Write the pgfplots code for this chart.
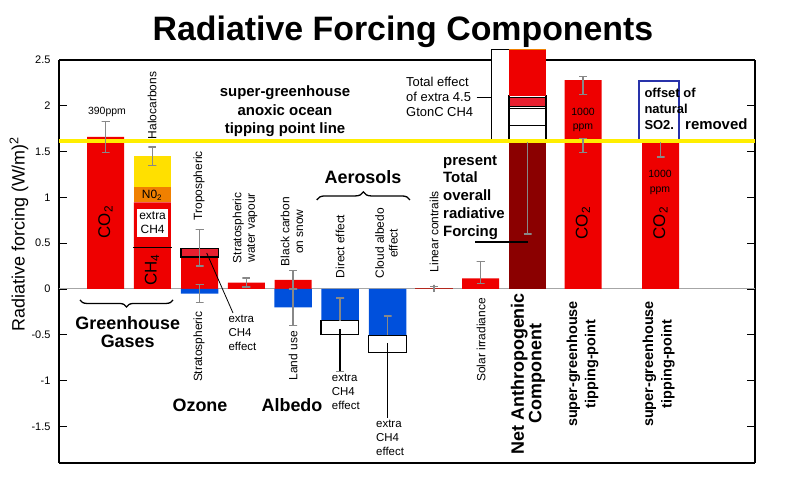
\documentclass[border=0pt]{standalone}
\usepackage{fontspec}
\setmainfont{Liberation Sans}
\usepackage{pgfplots}
\pgfplotsset{compat=1.18}
\usetikzlibrary{decorations.pathreplacing}
\definecolor{cred}{RGB}{238,0,0}
\definecolor{clred}{RGB}{232,32,48}
\definecolor{cblue}{RGB}{0,80,220}
\definecolor{cyel}{RGB}{255,224,0}
\definecolor{corange}{RGB}{240,128,0}
\definecolor{cdark}{RGB}{139,0,0}
\definecolor{cbrown}{RGB}{180,40,30}
\definecolor{cline}{RGB}{255,238,0}
\definecolor{cgray}{RGB}{136,136,136}
\definecolor{cnavy}{RGB}{40,50,170}
\newcommand\fs[2]{\fontsize{#1}{#2}\selectfont}
\begin{document}
\begin{tikzpicture}
\begin{axis}[
  scale only axis, width=696bp, height=403bp,
  xmin=59, xmax=755, ymin=-1.9, ymax=2.5,
  xtick=\empty,
  ytick={-1.5,-1,-0.5,0,0.5,1,1.5,2,2.5},
  tick align=inside, major tick length=8bp,
  yticklabel style={font=\fs{11}{13}, xshift=-5bp},
  /pgf/number format/assume math mode=true,
  separate axis lines, axis line style={line width=1.6bp, black},
  tick style={line width=1.2bp, black},
  clip=false,
  errb/.style={color=cgray, line width=1.3bp, forget plot},
]
% zero line
\addplot[gray!70, line width=1bp, forget plot] coordinates {(59,0) (755,0)};
% simple bars from zero
\addplot[ybar, bar width=37, fill=cred, draw=none, forget plot] coordinates {(105.5,1.66) (152.3,0.946) (199.5,0.35) (246.3,0.07) (293,0.098) (480.5,0.117) (583,2.28) (660.5,1.62)};
\addplot[ybar, bar width=37.5, fill=cblue, draw=none, forget plot] coordinates {(199.5,-0.052) (293,-0.2) (340,-0.345) (387.5,-0.505)};
\addplot[ybar, bar width=37.7, fill=cbrown, draw=none, forget plot] coordinates {(434,0.015)};
\addplot[ybar, bar width=37, fill=cdark, draw=none, forget plot] coordinates {(527.5,1.62)};
% halocarbon stack
\addplot[fill=corange, draw=none, forget plot] coordinates {(133.8,0.946) (170.8,0.946) (170.8,1.11) (133.8,1.11)} -- cycle;
\addplot[fill=cyel, draw=none, forget plot] coordinates {(133.8,1.11) (170.8,1.11) (170.8,1.449) (133.8,1.449)} -- cycle;
\addplot[black, line width=0.8bp, forget plot] coordinates {(133,0.455) (172,0.455)};
% tropospheric ozone extra box
\addplot[fill=clred, draw=black, line width=1.2bp, forget plot] coordinates {(181,0.35) (218.3,0.35) (218.3,0.445) (181,0.445)} -- cycle;
% aerosol extra boxes
\addplot[fill=white, draw=black, line width=1.2bp, forget plot] coordinates {(321,-0.345) (358.7,-0.345) (358.7,-0.495) (321,-0.495)} -- cycle;
\addplot[fill=white, draw=black, line width=1.2bp, forget plot] coordinates {(368.3,-0.505) (406.7,-0.505) (406.7,-0.69) (368.3,-0.69)} -- cycle;
% bracket for total effect
\addplot[fill=white, draw=black, line width=1bp, forget plot] coordinates {(509,2.62) (491.7,2.62) (491.7,1.625) (509,1.625)};
\addplot[black, line width=1bp, forget plot] coordinates {(476.7,2.09) (491.7,2.09)};
% net bar upper segments
\addplot[fill=white, draw=black, line width=1.1bp, forget plot] coordinates {(509,1.62) (546,1.62) (546,2.11) (509,2.11)} -- cycle;
\addplot[fill=cred, draw=none, forget plot] coordinates {(509,2.11) (546,2.11) (546,2.61) (509,2.61)} -- cycle;
\addplot[corange, line width=1bp, forget plot] coordinates {(509,2.61) (546,2.61)};
\addplot[fill=clred, draw=black, line width=1.1bp, forget plot] coordinates {(509,1.99) (546,1.99) (546,2.093) (509,2.093)} -- cycle;
\addplot[fill=white, draw=black, line width=1.1bp, forget plot] coordinates {(509,1.78) (546,1.78) (546,1.973) (509,1.973)} -- cycle;
% tipping point 2 box
\addplot[fill=white, draw=cnavy, line width=2bp, forget plot] coordinates {(639.3,1.625) (679.3,1.625) (679.3,2.27) (639.3,2.27)} -- cycle;
% yellow tipping line
\addplot[cline, line width=4bp, forget plot] coordinates {(59,1.615) (755,1.615)};
% error bars (cap, stem, cap)
\addplot[errb] coordinates {(101.5,1.49) (109.5,1.49) (105.5,1.49) (105.5,1.83) (101.5,1.83) (109.5,1.83)};
\addplot[errb] coordinates {(148.3,1.35) (156.3,1.35) (152.3,1.35) (152.3,1.55) (148.3,1.55) (156.3,1.55)};
\addplot[errb] coordinates {(195.5,0.25) (203.5,0.25) (199.5,0.25) (199.5,0.65) (195.5,0.65) (203.5,0.65)};
\addplot[errb] coordinates {(195.5,-0.15) (203.5,-0.15) (199.5,-0.15) (199.5,0.05) (195.5,0.05) (203.5,0.05)};
\addplot[errb] coordinates {(242.3,0.02) (250.3,0.02) (246.3,0.02) (246.3,0.12) (242.3,0.12) (250.3,0.12)};
\addplot[errb] coordinates {(289,0) (297,0) (293,0) (293,0.2) (289,0.2) (297,0.2)};
\addplot[errb] coordinates {(289,-0.4) (297,-0.4) (293,-0.4) (293,0)};
\addplot[errb] coordinates {(434,-0.035) (434,0.045) (434,0.03) (430,0.03) (438,0.03)};
\addplot[errb] coordinates {(476.5,0.06) (484.5,0.06) (480.5,0.06) (480.5,0.30) (476.5,0.30) (484.5,0.30)};
\addplot[errb] coordinates {(579,2.12) (587,2.12) (583,2.12) (583,2.32) (579,2.32) (587,2.32)};
\addplot[errb] coordinates {(579,1.49) (587,1.49) (583,1.49) (583,1.64) (579,1.64) (587,1.64)};
\addplot[errb] coordinates {(336,-0.1) (344,-0.1) (340,-0.1) (340,-0.345)};
\addplot[black, line width=1.3bp, forget plot] coordinates {(340,-0.437) (340,-0.9)};
\addplot[errb] coordinates {(336,-0.9) (344,-0.9)};
\addplot[errb] coordinates {(383.5,-0.295) (391.5,-0.295) (387.5,-0.295) (387.5,-0.505)};
\addplot[black, line width=1.3bp, forget plot] coordinates {(387.5,-0.593) (387.5,-1.41)};
\addplot[errb] coordinates {(523.5,0.6) (531.5,0.6) (527.5,0.6) (527.5,1.6)};
\addplot[errb] coordinates {(656.5,1.44) (664.5,1.44) (660.5,1.44) (660.5,1.6)};
% other lines
\addplot[black, line width=2bp, forget plot] coordinates {(475,0.51) (527.7,0.51)};
\addplot[black, line width=0.8bp, forget plot] coordinates {(206.7,0.393) (233,-0.262)};
% braces
\draw[decorate, decoration={brace, mirror, amplitude=7bp}, line width=1.3bp] (axis cs:80,-0.12) -- (axis cs:173,-0.12);
\draw[decorate, decoration={brace, amplitude=8bp}, line width=1.3bp] (axis cs:316.7,0.972) -- (axis cs:410,0.972);
% texts
\node[anchor=base, font=\bfseries\fs{34}{40}] at (axis cs:403,2.718) {Radiative Forcing Components};
\node[rotate=90, font=\fs{18}{20}] at (axis cs:19,0.60) {Radiative forcing (W/m)\textsuperscript{2}};
\node[font=\fs{10.5}{12}] at (axis cs:107,1.936) {390ppm};
\node[rotate=90, font=\fs{17}{20}] at (axis cs:105.5,0.731) {CO\textsubscript{2}};
\node[rotate=90, font=\fs{12}{14}] at (axis cs:152,2.003) {Halocarbons};
\node[font=\fs{12}{14}] at (axis cs:152,1.026) {N0\textsubscript{2}};
\node[fill=white, inner sep=0pt, minimum width=31bp, minimum height=28bp, align=center, font=\fs{12}{14.3}] at (axis cs:152.6,0.722) {extra\\CH4};
\node[rotate=90, font=\fs{17}{20}] at (axis cs:152,0.207) {CH\textsubscript{4}};
\node[rotate=90, font=\fs{12}{14}] at (axis cs:199,1.127) {Tropospheric};
\node[rotate=90, align=center, font=\fs{12}{13.7}] at (axis cs:245,0.668) {Stratospheric\\water vapour};
\node[rotate=90, align=center, font=\fs{12}{13.7}] at (axis cs:292,0.626) {Black carbon\\on snow};
\node[rotate=90, font=\fs{12}{14}] at (axis cs:340,0.464) {Direct effect};
\node[rotate=90, align=center, font=\fs{12}{13.7}] at (axis cs:386.5,0.499) {Cloud albedo\\effect};
\node[rotate=90, font=\fs{12}{14}] at (axis cs:434,0.626) {Linear contrails};
\node[rotate=90, font=\fs{12}{14}] at (axis cs:199,-0.631) {Stratospheric};
\node[rotate=90, font=\fs{12}{14}] at (axis cs:293,-0.73) {Land use};
\node[rotate=90, font=\fs{12}{14}] at (axis cs:481,-0.557) {Solar irradiance};
\node[rotate=90, align=center, font=\bfseries\fs{18}{17.7}] at (axis cs:528,-0.926) {Net Anthropogenic\\Component};
\node[rotate=90, align=center, font=\bfseries\fs{14.5}{18.4}] at (axis cs:582.5,-0.819) {super-greenhouse\\tipping-point};
\node[rotate=90, align=center, font=\bfseries\fs{14.5}{18.4}] at (axis cs:658.7,-0.819) {super-greenhouse\\tipping-point};
\node[align=center, font=\bfseries\fs{18}{18}] at (axis cs:127.7,-0.469) {Greenhouse\\Gases};
\node[font=\bfseries\fs{18}{20}] at (axis cs:200,-1.266) {Ozone};
\node[font=\bfseries\fs{18}{20}] at (axis cs:292,-1.27) {Albedo};
\node[font=\bfseries\fs{18}{20}] at (axis cs:363,1.226) {Aerosols};
\node[anchor=west, align=left, inner sep=0pt, font=\fs{11.5}{14}] at (axis cs:228.3,-0.48) {extra\\CH4\\effect};
\node[anchor=west, align=left, inner sep=0pt, font=\fs{11.5}{14}] at (axis cs:331.7,-1.124) {extra\\CH4\\effect};
\node[anchor=west, align=left, inner sep=0pt, font=\fs{11.5}{14}] at (axis cs:376,-1.627) {extra\\CH4\\effect};
\node[align=center, font=\bfseries\fs{15}{18.7}] at (axis cs:285,1.94) {super-greenhouse\\anoxic ocean\\tipping point line};
\node[anchor=west, align=left, inner sep=0pt, font=\fs{13}{15.2}] at (axis cs:406,2.096) {Total effect\\of extra 4.5\\GtonC CH4};
\node[anchor=west, align=left, inner sep=0pt, font=\bfseries\fs{15}{17.8}] at (axis cs:443,1.0) {present\\Total\\overall\\radiative\\Forcing};
\node[anchor=west, align=left, inner sep=0pt, font=\bfseries\fs{13}{16}] at (axis cs:644.3,1.963) {offset of\\natural\\SO2.};
\node[anchor=west, inner sep=0pt, font=\bfseries\fs{15}{17}] at (axis cs:685,1.80) {removed};
\node[align=center, font=\fs{10.5}{14.6}] at (axis cs:583,1.845) {1000\\ppm};
\node[align=center, font=\fs{10.5}{14.6}] at (axis cs:660,1.165) {1000\\ppm};
\node[rotate=90, font=\fs{17}{20}] at (axis cs:583,0.72) {CO\textsubscript{2}};
\node[rotate=90, font=\fs{17}{20}] at (axis cs:660.5,0.72) {CO\textsubscript{2}};
\coordinate (BL) at (axis cs:0,-2.085);
\coordinate (TR) at (axis cs:809,3.155);
\end{axis}
\pgfresetboundingbox
\path[use as bounding box] (BL) rectangle (TR);
\end{tikzpicture}
\end{document}
